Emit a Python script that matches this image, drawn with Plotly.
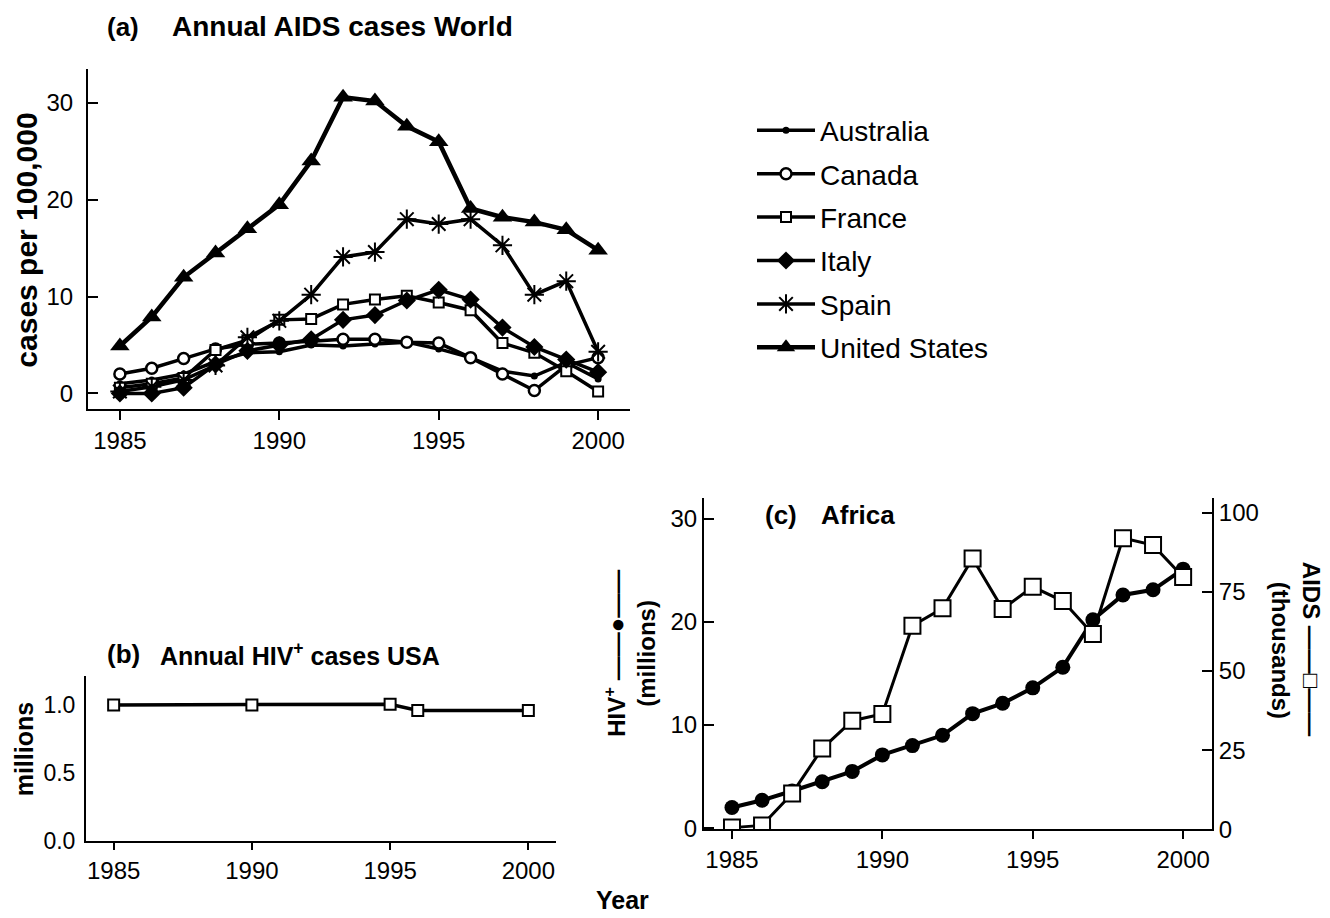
import plotly.graph_objects as go

years = list(range(1985, 2001))

# Panel (a): annual AIDS cases per 100,000
australia = [1.0, 1.4, 2.0, 3.3, 4.2, 4.3, 5.0, 4.9, 5.1, 5.3, 4.6, 3.7, 2.3, 1.8, 3.2, 1.5]
canada = [2.0, 2.6, 3.6, 4.6, 5.1, 5.2, 5.4, 5.6, 5.6, 5.3, 5.2, 3.7, 2.0, 0.3, 2.9, 3.7]
france = [0.6, 1.0, 1.6, 4.5, 5.5, 7.6, 7.7, 9.2, 9.7, 10.1, 9.4, 8.6, 5.2, 4.2, 2.3, 0.2]
italy = [0.0, 0.0, 0.6, 3.0, 4.4, 5.0, 5.6, 7.6, 8.1, 9.6, 10.7, 9.7, 6.8, 4.8, 3.5, 2.2]
spain = [0.2, 0.7, 1.4, 2.9, 5.8, 7.5, 10.2, 14.1, 14.6, 18.0, 17.5, 18.0, 15.3, 10.2, 11.6, 4.3]
united_states = [4.9, 7.9, 12.0, 14.5, 17.0, 19.5, 24.0, 30.6, 30.2, 27.6, 26.0, 19.1, 18.2, 17.7, 16.9, 14.8]

# Panel (b): annual HIV+ cases USA (millions)
usa_years = [1985, 1990, 1995, 1996, 2000]
usa_hiv = [1.0, 1.0, 1.005, 0.96, 0.96]

# Panel (c): Africa
africa_hiv = [2.0, 2.7, 3.6, 4.5, 5.5, 7.1, 8.0, 9.0, 11.1, 12.1, 13.6, 15.6, 20.2, 22.6, 23.1, 25.1]
africa_aids = [0.5, 1.2, 11.3, 25.5, 34.3, 36.4, 64.3, 69.8, 85.6, 69.6, 76.6, 72.1, 61.7, 92.0, 89.8, 79.7]

year_ticks = [1985, 1990, 1995, 2000]

W, H = 1330, 918
def px(x):
    return x / W
def py(y):
    return 1 - y / H

FONT = "Liberation Sans, Arial, sans-serif"
BLK = "black"

fig = go.Figure()

series_a = [
    ("Australia", australia, dict(symbol="circle", size=7, color=BLK)),
    ("Canada", canada, dict(symbol="circle", size=11, color="white", line=dict(color=BLK, width=2.5))),
    ("France", france, dict(symbol="square", size=10, color="white", line=dict(color=BLK, width=2))),
    ("Italy", italy, dict(symbol="diamond", size=14, color=BLK)),
    ("Spain", spain, dict(symbol="asterisk-open", size=16, color=BLK, line=dict(color=BLK, width=2))),
    ("United States", united_states, dict(symbol="triangle-up", size=17, color=BLK)),
]
for i, (name, vals, mk) in enumerate(series_a):
    fig.add_trace(go.Scatter(
        x=years, y=vals, name=name, mode="lines+markers",
        line=dict(color=BLK, width=4.5 if name == "United States" else 3.5),
        marker=mk, xaxis="x", yaxis="y", legendgroup=name,
    ))

fig.add_trace(go.Scatter(
    x=usa_years, y=usa_hiv, mode="lines+markers", showlegend=False,
    line=dict(color=BLK, width=3.5),
    marker=dict(symbol="square", size=11, color="white", line=dict(color=BLK, width=2)),
    xaxis="x2", yaxis="y2",
))

fig.add_trace(go.Scatter(
    x=years, y=africa_hiv, mode="lines+markers", showlegend=False,
    line=dict(color=BLK, width=4),
    marker=dict(symbol="circle", size=15, color=BLK),
    xaxis="x3", yaxis="y3",
))
fig.add_trace(go.Scatter(
    x=years, y=africa_aids, mode="lines+markers", showlegend=False,
    line=dict(color=BLK, width=3),
    marker=dict(symbol="square", size=16, color="white", line=dict(color=BLK, width=2)),
    xaxis="x3", yaxis="y4",
))

tickfont = dict(family=FONT, size=24, color=BLK)
base = dict(showgrid=False, zeroline=False, showline=True, linecolor=BLK, linewidth=2,
            tickcolor=BLK, tickwidth=2, tickfont=tickfont)

fig.update_layout(
    width=W, height=H,
    margin=dict(l=0, r=0, t=0, b=0),
    paper_bgcolor="white", plot_bgcolor="white",
    font=dict(family=FONT, color=BLK),
    xaxis=dict(base, domain=[px(80), px(622)], range=[1984.0, 2001.0], anchor="y",
               tickvals=year_ticks, ticks="outside", ticklen=9),
    yaxis=dict(base, domain=[py(407), py(62)], range=[-1.63, 33.5], anchor="x",
               tickvals=[0, 10, 20, 30], ticks="inside", ticklen=10, ticklabelstandoff=8),
    xaxis2=dict(base, domain=[px(78), px(548)], range=[1984.0, 2001.0], anchor="y2",
                tickvals=year_ticks, ticks="outside", ticklen=7),
    yaxis2=dict(base, domain=[py(845), py(678)], range=[0, 1.21], anchor="x2",
                tickvals=[0.0, 0.5, 1.0], tickformat=".1f", ticks="", ticklabelstandoff=4,
                tickfont=dict(family=FONT, size=23, color=BLK)),
    xaxis3=dict(base, domain=[px(696), px(1204)], range=[1984.07, 2000.96], anchor="y3",
                tickvals=year_ticks, ticks="outside", ticklen=8),
    yaxis3=dict(base, domain=[py(833), py(497)], range=[-0.1, 32.0], anchor="x3",
                tickvals=[0, 10, 20, 30], ticks="inside", ticklen=10),
    yaxis4=dict(base, range=[0, 104.7], overlaying="y3", side="right", anchor="x3",
                tickvals=[0, 25, 50, 75, 100], ticks="inside", ticklen=10),
    legend=dict(x=px(744), y=py(99), xanchor="left", yanchor="top",
                font=dict(family=FONT, size=28, color=BLK), itemwidth=58,
                tracegroupgap=4, bgcolor="rgba(0,0,0,0)"),
    showlegend=True,
)

def ann(text, x, y, size=26, bold=True, xanchor="left", angle=0, family=FONT):
    fig.add_annotation(
        text=f"<b>{text}</b>" if bold else text,
        x=px(x), y=py(y), xref="paper", yref="paper",
        xanchor=xanchor, yanchor="middle", showarrow=False, textangle=angle,
        font=dict(family=family, size=size, color=BLK),
    )

ann("(a)", 97, 19)
ann("Annual AIDS cases World", 162, 19, size=28)
ann("(b)", 97, 655)
ann("Annual HIV<sup>+</sup> cases USA", 150, 655, size=25)
ann("(c)", 755, 514)
ann("Africa", 811, 514)
ann("cases per 100,000", 19, 236, size=30, xanchor="center", angle=-90)
ann("millions", 16, 752, size=25, xanchor="center", angle=-90)
ann("HIV<sup>+</sup> ——●——", 607, 655, size=24, xanchor="center", angle=-90)
ann("(millions)", 639, 655, size=24, xanchor="center", angle=-90)
ann("AIDS ——□——", 1303, 650, size=24, xanchor="center", angle=90,
    family="Liberation Sans, DejaVu Sans, sans-serif")
ann("(thousands)", 1272, 651, size=24, xanchor="center", angle=90)
ann("Year", 614, 905, size=25, xanchor="center")

fig.write_html("out.html")
